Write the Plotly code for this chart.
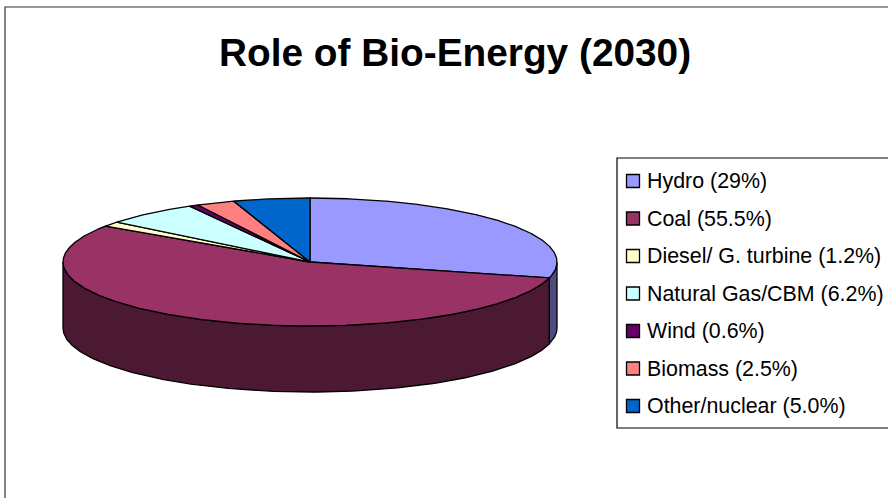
import numpy as np
import plotly.graph_objects as go

# ---- data ----
categories = ["Hydro", "Coal", "Diesel/ G. turbine", "Natural Gas/CBM", "Wind", "Biomass", "Other/nuclear"]
values = [29.0, 55.5, 1.2, 6.2, 0.6, 2.5, 5.0]
legend_labels = ["Hydro (29%)", "Coal (55.5%)", "Diesel/ G. turbine (1.2%)", "Natural Gas/CBM (6.2%)",
                 "Wind (0.6%)", "Biomass (2.5%)", "Other/nuclear (5.0%)"]
colors = ["#9999FF", "#993366", "#FFFFCC", "#CCFFFF", "#660066", "#FF8080", "#0066CC"]
title = "Role of Bio-Energy (2030)"

# ---- geometry (pixel space) ----
W, H = 888, 498
cx, cy = 310, 262
rx, ry = 247, 64
depth = 66


def darker(hexc, f=0.5):
    hexc = hexc.lstrip("#")
    r, g, b = (int(hexc[i:i + 2], 16) for i in (0, 2, 4))
    return "rgb(%d,%d,%d)" % (r * f, g * f, b * f)


def pt(theta_deg, dy=0.0):
    t = np.radians(theta_deg)
    return cx + rx * np.sin(t), cy - ry * np.cos(t) + dy


fig = go.Figure()

total = sum(values)
starts = np.concatenate([[0], np.cumsum(values)[:-1]]) / total * 360
ends = np.cumsum(values) / total * 360

# outer walls (visible between 90 and 270 deg clockwise from top)
for s, e, c in zip(starts, ends, colors):
    a0, a1 = max(s, 90), min(e, 270)
    if a1 <= a0:
        continue
    th = np.linspace(a0, a1, 200)
    xt, yt = pt(th)
    xb, yb = pt(th[::-1], depth)
    xs = np.concatenate([xt, xb, xt[:1]])
    ys = np.concatenate([yt, yb, yt[:1]])
    fig.add_trace(go.Scatter(x=xs, y=ys, mode="lines", fill="toself", fillcolor=darker(c),
                             line=dict(color="black", width=1.3), hoverinfo="skip", showlegend=False))

# top faces
for s, e, c, name in zip(starts, ends, colors, categories):
    th = np.linspace(s, e, max(int((e - s) * 3), 8))
    xa, ya = pt(th)
    xs = np.concatenate([[cx], xa, [cx]])
    ys = np.concatenate([[cy], ya, [cy]])
    fig.add_trace(go.Scatter(x=xs, y=ys, mode="lines", fill="toself", fillcolor=c,
                             line=dict(color="black", width=1.3), name=name,
                             hoverinfo="name", showlegend=False))

# legend (manual)
leg_y0, leg_dy = 181, 37.5
leg_y = [leg_y0 + i * leg_dy for i in range(len(categories))]
fig.add_trace(go.Scatter(x=[633] * len(categories), y=leg_y, mode="markers",
                         marker=dict(symbol="square", size=13, color=colors,
                                     line=dict(color="black", width=1.3)),
                         hoverinfo="skip", showlegend=False))
annotations = [dict(x=645, y=yy, xref="x", yref="y", text=lab, showarrow=False,
                    xanchor="left", yanchor="middle",
                    font=dict(family="Liberation Sans, Arial", size=21.4, color="black"))
               for yy, lab in zip(leg_y, legend_labels)]
annotations.append(dict(x=455, y=52, xref="x", yref="y", text="<b>%s</b>" % title, showarrow=False,
                        xanchor="center", yanchor="middle",
                        font=dict(family="Liberation Sans, Arial", size=38.8, color="black")))

shapes = [
    dict(type="rect", xref="x", yref="y", x0=5, y0=7, x1=W + 10, y1=H + 10,
         line=dict(color="#333333", width=1.2), fillcolor="rgba(0,0,0,0)"),
    dict(type="rect", xref="x", yref="y", x0=617, y0=158, x1=W + 10, y1=428,
         line=dict(color="black", width=1.2), fillcolor="rgba(0,0,0,0)"),
]

fig.update_layout(
    width=W, height=H, autosize=False,
    margin=dict(l=0, r=0, t=0, b=0),
    paper_bgcolor="white", plot_bgcolor="white",
    xaxis=dict(range=[0, W], visible=False, fixedrange=True),
    yaxis=dict(range=[H, 0], visible=False, fixedrange=True),
    annotations=annotations, shapes=shapes, showlegend=False,
)

fig.write_html("out.html", config={"displayModeBar": False},
               post_script="document.body.style.margin='0';")
